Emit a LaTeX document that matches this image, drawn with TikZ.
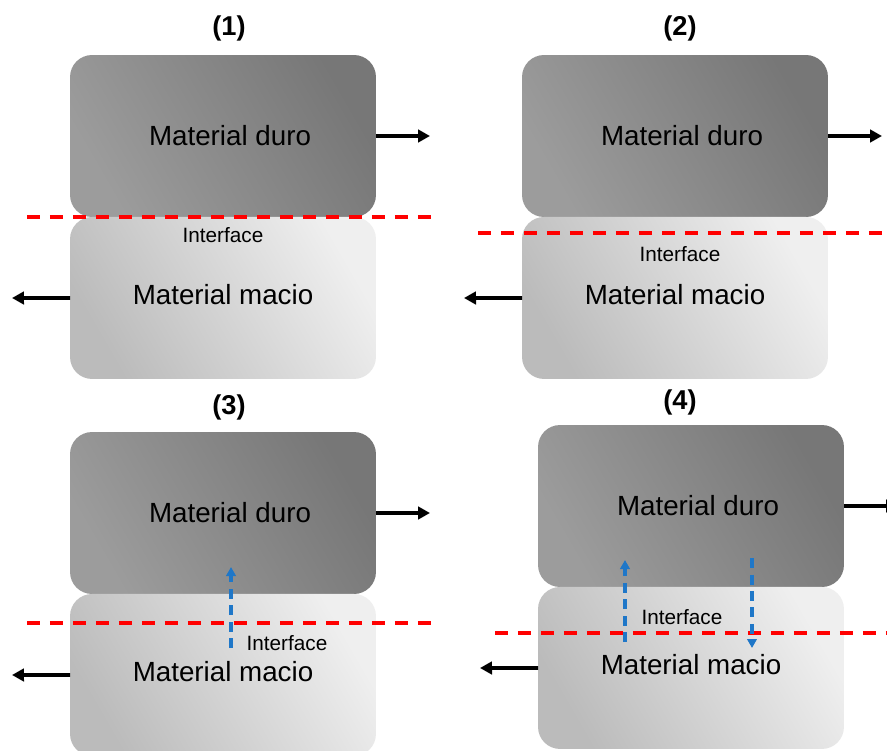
\documentclass[tikz,border=0pt]{standalone}
\usepackage{fontspec}
\setmainfont{Liberation Sans}
\usetikzlibrary{arrows.meta, positioning}
\definecolor{cred}{HTML}{FF0000}
\definecolor{cblue}{HTML}{1F77C8}
\definecolor{hardlight}{HTML}{9C9C9C}
\definecolor{harddark}{HTML}{777777}
\definecolor{softlight}{HTML}{EFEFEF}
\definecolor{softdark}{HTML}{BBBBBB}
\tikzset{
  every picture/.style={line width=2pt},
  block/.style={rounded corners=0.44cm, minimum width=6.12cm, minimum height=3.24cm, inner sep=0pt, outer sep=0pt, font=\fontsize{15.8}{18}\selectfont},
  hard/.style={block, left color=hardlight, right color=harddark, shading angle=120},
  soft/.style={block, left color=softdark, right color=softlight, shading angle=120},
  force/.style={-{Triangle[length=2.4mm, width=2.5mm]}, black, line width=2.2pt},
  interface/.style={cred, dash pattern=on 0.26cm off 0.2cm, line width=2.2pt},
  flux/.style={-{Triangle[length=1.8mm, width=1.9mm]}, cblue, dash pattern=on 0.2cm off 0.13cm, line width=2pt},
  title/.style={font=\bfseries\fontsize{15.5}{18}\selectfont, inner sep=0pt},
  note/.style={font=\fontsize{11.8}{14}\selectfont, inner sep=0pt},
}
\begin{document}
\begin{tikzpicture}[x=0.02cm, y=-0.02cm]
  \clip (0,0) rectangle (887,751);
  \foreach \n/\bx/\by/\tx/\ty/\ry/\rl/\rr/\ix/\iy in {1/223/136/229/28/217/27/432/223/235, 2/675/136/680/28/233/478/887/680/254, 3/223/513/229/407/623/27/432/287/643, 4/691/506/680/402/633/495/887/682/617} {
    \node[hard] (hard\n) at (\bx,\by) {\hspace{8pt}Material duro};
    \node[soft, below=0pt of hard\n] (soft\n) {\raisebox{4pt}{Material macio}};
    \node[title] (title\n) at (\tx,\ty) {(\n)};
    \coordinate (pull\n) at (\bx+207,\by);
    \coordinate (push\n) at (\bx-211,\by+162);
    \draw[force] (hard\n.east) -- (pull\n);
    \draw[force] (soft\n.west) -- (push\n);
    \draw[interface] (\rl,\ry) -- (\rr,\ry);
    \node[note] (iface\n) at (\ix,\iy) {Interface};
  }
  % transfer across the interface
  \coordinate (up3a) at (231,648); \coordinate (up3b) at (231,567);
  \coordinate (up4a) at (625,642); \coordinate (up4b) at (625,560);
  \coordinate (dn4a) at (752,558); \coordinate (dn4b) at (752,648);
  \draw[flux] (up3a) -- (up3b);
  \draw[flux] (up4a) -- (up4b);
  \draw[flux] (dn4a) -- (dn4b);
\end{tikzpicture}
\end{document}
